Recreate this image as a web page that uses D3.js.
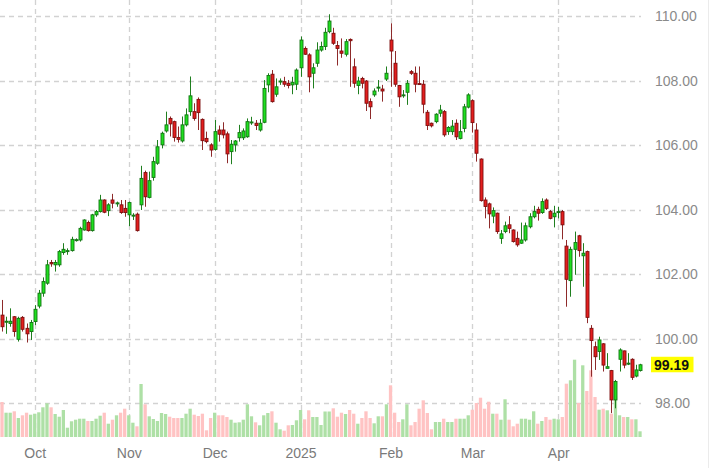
<!DOCTYPE html>
<html>
<head>
<meta charset="utf-8">
<script src="https://cdn.jsdelivr.net/npm/d3@7"></script>
<style>
  html, body { margin: 0; padding: 0; background: #ffffff; }
  svg { display: block; }
  text { font-family: "Liberation Sans", Arial, sans-serif; }
</style>
</head>
<body>
<svg id="chart" width="723" height="468"></svg>
<script>
// ---------- DATA ----------
const dates = [
  "2024-09-19","2024-09-20","2024-09-23","2024-09-24","2024-09-25","2024-09-26","2024-09-27","2024-09-30",
  "2024-10-01","2024-10-02","2024-10-03","2024-10-04","2024-10-07","2024-10-08","2024-10-09","2024-10-10","2024-10-11",
  "2024-10-14","2024-10-15","2024-10-16","2024-10-17","2024-10-18","2024-10-21","2024-10-22","2024-10-23","2024-10-24",
  "2024-10-25","2024-10-28","2024-10-29","2024-10-30","2024-10-31",
  "2024-11-01","2024-11-04","2024-11-05","2024-11-06","2024-11-07","2024-11-08","2024-11-11","2024-11-12","2024-11-13",
  "2024-11-14","2024-11-15","2024-11-18","2024-11-19","2024-11-20","2024-11-21","2024-11-22","2024-11-25","2024-11-26",
  "2024-11-27","2024-11-28","2024-11-29",
  "2024-12-02","2024-12-03","2024-12-04","2024-12-05","2024-12-06","2024-12-09","2024-12-10","2024-12-11","2024-12-12",
  "2024-12-13","2024-12-16","2024-12-17","2024-12-18","2024-12-19","2024-12-20","2024-12-23","2024-12-24","2024-12-26",
  "2024-12-27","2024-12-30","2024-12-31",
  "2025-01-02","2025-01-03","2025-01-06","2025-01-07","2025-01-08","2025-01-09","2025-01-10","2025-01-13","2025-01-14",
  "2025-01-15","2025-01-16","2025-01-17","2025-01-20","2025-01-21","2025-01-22","2025-01-23","2025-01-24","2025-01-27",
  "2025-01-28","2025-01-29","2025-01-30","2025-01-31",
  "2025-02-03","2025-02-04","2025-02-05","2025-02-06","2025-02-07","2025-02-10","2025-02-11","2025-02-12","2025-02-13",
  "2025-02-14","2025-02-17","2025-02-18","2025-02-19","2025-02-20","2025-02-21","2025-02-24","2025-02-25","2025-02-26",
  "2025-02-27","2025-02-28",
  "2025-03-03","2025-03-04","2025-03-05","2025-03-06","2025-03-07","2025-03-10","2025-03-11","2025-03-12","2025-03-13",
  "2025-03-14","2025-03-17","2025-03-18","2025-03-19","2025-03-20","2025-03-21","2025-03-24","2025-03-25","2025-03-26",
  "2025-03-27","2025-03-28","2025-03-31",
  "2025-04-01","2025-04-02","2025-04-03","2025-04-04","2025-04-07","2025-04-08","2025-04-09","2025-04-10","2025-04-11",
  "2025-04-14","2025-04-15","2025-04-16","2025-04-17","2025-04-18","2025-04-21","2025-04-22","2025-04-23","2025-04-24",
  "2025-04-25","2025-04-28","2025-04-29"
];

const open = [
  100.73,100.52,100.47,100.68,99.98,100.66,100.32,100.22,
  100.53,101.01,101.41,101.72,102.36,102.29,102.29,102.67,102.71,
  102.73,103.05,103.06,103.37,103.60,103.35,103.84,103.94,104.30,
  103.97,104.30,104.19,104.15,104.04,
  103.84,103.82,103.86,104.15,105.15,104.38,105.00,105.44,106.01,
  106.44,106.83,106.73,106.24,106.13,106.63,107.04,107.04,107.42,
  106.80,106.21,106.01,
  105.87,106.47,106.47,106.35,105.80,106.01,106.23,106.23,106.26,
  106.71,106.68,106.47,106.71,107.87,108.20,107.58,107.98,107.97,
  107.92,107.87,107.89,
  108.40,109.00,108.80,108.23,108.54,108.95,109.06,109.52,109.47,
  109.09,108.92,108.82,109.28,108.43,107.85,108.07,107.99,107.35,
  107.56,107.79,107.74,108.05,
  109.26,108.54,107.85,107.55,107.64,108.28,108.23,107.91,107.89,
  107.02,106.68,106.73,106.99,107.04,106.42,106.42,106.68,106.21,
  106.52,107.18,
  107.38,106.47,105.57,104.30,104.18,103.80,103.89,103.11,103.32,
  103.53,103.37,103.11,102.96,103.06,103.47,103.78,104.01,103.91,
  104.30,103.94,103.78,
  103.93,103.94,102.87,101.80,102.77,103.19,102.57,102.70,100.32,
  99.75,99.60,99.84,99.08,99.01,98.10,99.36,99.62,99.23,
  99.36,98.84,99.01
];
const high = [
  101.20,100.68,100.94,100.70,100.68,100.70,100.47,100.58,
  101.04,101.51,101.90,102.44,102.44,102.44,102.75,102.96,102.80,
  103.16,103.11,103.47,103.70,103.66,103.87,103.99,104.46,104.32,
  104.20,104.49,104.25,104.30,104.30,
  104.25,103.89,103.91,105.36,105.21,105.18,105.64,106.16,106.42,
  107.04,106.89,106.76,106.58,106.89,107.14,108.13,107.30,107.48,
  106.83,106.42,106.06,
  106.78,106.61,106.71,106.42,106.16,106.16,106.63,106.52,106.83,
  106.88,106.78,106.81,108.02,108.23,108.33,108.07,108.07,108.12,
  108.02,108.12,108.38,
  109.37,109.06,108.85,108.54,109.19,109.21,109.64,110.06,109.64,
  109.23,109.31,109.29,109.31,108.69,108.12,108.12,108.02,107.45,
  107.76,108.02,107.87,108.44,
  109.78,108.92,107.87,107.71,108.02,108.33,108.44,108.44,108.02,
  107.09,106.70,106.99,107.25,107.09,106.59,106.78,106.80,106.78,
  107.28,107.61,
  107.42,106.68,105.59,104.38,104.22,104.07,103.91,103.37,103.63,
  103.80,103.39,103.32,103.60,103.60,103.89,104.12,104.09,104.35,
  104.35,103.99,104.12,
  104.09,103.99,103.06,102.85,103.32,103.22,102.96,102.73,100.42,
  99.91,100.06,99.86,99.55,99.03,98.72,99.70,99.63,99.55,
  99.39,99.19,99.22
];
const low = [
  100.22,100.15,100.37,100.06,99.91,100.22,99.88,99.96,
  100.42,100.94,101.30,101.67,102.23,102.08,102.23,102.60,102.60,
  102.70,103.01,103.01,103.35,103.32,103.32,103.78,103.91,103.89,
  103.80,104.04,104.09,103.87,103.78,
  103.49,103.68,103.32,103.99,104.09,104.35,104.90,105.39,105.90,
  106.39,106.27,106.11,106.08,106.08,106.58,106.91,106.76,106.47,
  105.85,106.06,105.64,
  105.83,106.11,106.21,105.44,105.41,105.80,106.11,106.16,106.23,
  106.63,106.47,106.42,106.68,107.64,107.32,107.50,107.87,107.81,
  107.76,107.58,107.71,
  108.12,108.80,107.64,107.76,108.43,108.90,108.95,109.47,109.11,
  108.47,108.71,108.75,107.81,107.78,107.58,107.76,107.06,106.81,
  107.50,107.66,107.35,107.99,
  107.81,107.81,107.19,107.47,107.25,108.18,107.64,107.87,106.99,
  106.47,106.55,106.68,106.88,106.26,106.32,106.32,106.16,106.18,
  106.40,107.14,
  106.39,105.49,104.25,103.73,103.42,103.58,103.25,102.94,103.27,
  103.27,102.98,102.85,102.94,103.01,103.42,103.73,103.66,103.87,
  103.99,103.70,103.45,
  103.73,103.08,100.99,101.30,101.98,102.54,101.61,100.48,98.82,
  99.03,99.34,98.98,99.08,97.69,97.84,98.98,99.08,99.18,
  98.72,98.80,98.98
];
const close = [
  100.37,100.54,100.54,100.22,100.63,100.29,100.15,100.50,
  100.91,101.41,101.77,102.29,102.32,102.36,102.70,102.77,102.73,
  103.08,103.07,103.42,103.68,103.35,103.84,103.94,104.30,103.92,
  104.15,104.20,104.21,103.91,103.91,
  104.22,103.83,103.35,104.97,104.40,104.90,105.49,105.95,106.37,
  106.63,106.66,106.24,106.18,106.63,106.94,107.53,106.83,107.01,
  106.14,106.11,105.85,
  106.42,106.34,106.32,105.73,106.03,106.13,106.39,106.44,106.73,
  106.72,106.61,106.68,107.76,108.16,107.35,107.81,107.99,107.89,
  107.85,107.95,108.33,
  109.26,108.82,108.12,108.40,108.95,109.06,109.50,109.85,109.16,
  109.00,108.85,109.21,109.24,107.92,107.99,107.92,107.30,107.19,
  107.68,107.80,107.68,108.23,
  108.92,107.89,107.50,107.56,107.92,108.23,107.89,107.89,107.27,
  106.61,106.60,106.96,107.09,106.32,106.55,106.59,106.26,106.42,
  107.19,107.56,
  106.70,105.75,104.28,104.10,103.87,103.97,103.32,103.25,103.50,
  103.42,103.01,102.91,103.06,103.50,103.78,103.94,103.89,104.25,
  104.04,103.73,103.89,
  103.94,103.53,101.84,102.77,102.98,102.73,102.65,100.66,99.94,
  99.44,99.96,99.18,99.13,98.10,98.67,99.65,99.18,99.24,
  98.80,99.03,99.19
];
// volume (thousand contracts, estimated)
const volume = [
  35.0,24.3,24.3,25.7,19.0,21.7,24.3,22.3,
  23.3,24.7,29.7,33.7,29.7,23.0,20.3,27.0,9.3,
  15.7,17.3,18.3,18.3,16.0,16.0,18.3,21.3,24.3,
  13.3,17.3,21.7,24.3,28.3,
  21.7,14.3,10.7,53.0,32.7,20.7,18.0,16.0,24.0,
  23.0,20.3,19.0,19.0,19.0,23.3,28.3,22.3,21.0,
  23.3,6.7,19.0,
  24.3,21.7,21.7,20.0,17.3,14.3,14.7,17.3,32.7,
  20.7,14.7,11.7,21.7,24.0,25.7,14.3,7.7,6.3,
  11.7,12.0,16.7,
  27.0,17.7,26.7,20.0,20.0,12.0,25.5,25.5,28.7,
  20.3,24.3,23.0,27.0,23.3,13.3,19.0,25.7,19.0,
  13.7,20.7,20.7,32.7,
  51.7,24.3,15.0,17.7,32.7,11.7,15.0,28.3,36.7,
  24.0,7.7,15.0,15.0,18.3,15.0,15.0,18.3,18.3,
  18.3,21.7,
  27.3,34.0,39.3,28.3,35.3,23.3,23.3,17.3,37.7,
  17.3,10.7,13.3,18.3,18.3,17.3,25.7,13.3,16.0,
  20.0,17.3,18.3,
  17.7,20.0,53.3,56.7,77.3,34.0,71.7,46.0,66.7,
  40.0,27.3,28.3,26.7,23.3,40.7,21.7,20.0,20.0,
  17.7,17.7,5.7
];

const priceTicks = [98, 100, 102, 104, 106, 108, 110];
const tickLabels = ["Oct", "Nov", "Dec", "2025", "Feb", "Mar", "Apr"];
const tickDates = ["2024-10-01","2024-11-01","2024-12-02","2025-01-02","2025-02-03","2025-03-03","2025-04-01"];

// ---------- CHART ----------
const svg = d3.select("#chart");
const W = 723, H = 468;
const plotRight = 645, plotBottom = 437;

const x = d3.scaleLinear().domain([0, dates.length - 1]).range([2, 640]);
const step = x(1) - x(0);
const y = d3.scaleLinear().domain([96.95, 110.502]).range([plotBottom, 0]);
const yVol = d3.scaleLinear().domain([0, 80]).range([plotBottom, plotBottom - 80]);

const data = dates.map((d, i) => ({
  i, date: d, o: open[i], h: high[i], l: low[i], c: close[i], v: volume[i],
  up: close[i] >= open[i]
}));

const gridColor = "#d2d2d2";

// clip
svg.append("defs").append("clipPath").attr("id", "plotclip")
  .append("rect").attr("x", 0).attr("y", 0).attr("width", plotRight).attr("height", plotBottom);

// horizontal grid
svg.append("g").selectAll("line").data(priceTicks).join("line")
  .attr("x1", 0).attr("x2", 641)
  .attr("y1", d => Math.round(y(d)) + 0.5).attr("y2", d => Math.round(y(d)) + 0.5)
  .attr("stroke", gridColor).attr("stroke-width", 1.3).attr("stroke-dasharray", "5,4");

// vertical grid
const tickIdx = tickDates.map(d => dates.indexOf(d));
svg.append("g").selectAll("line").data(tickIdx).join("line")
  .attr("x1", d => Math.round(x(d)) + 0.5).attr("x2", d => Math.round(x(d)) + 0.5)
  .attr("y1", 0).attr("y2", 441)
  .attr("stroke", gridColor).attr("stroke-width", 1.3).attr("stroke-dasharray", "5,4");

// right border line
svg.append("line").attr("x1", 708.5).attr("x2", 708.5).attr("y1", 0).attr("y2", H)
  .attr("stroke", "#ebebeb").attr("stroke-width", 1);

const plot = svg.append("g").attr("clip-path", "url(#plotclip)");

// volume bars
plot.append("g").selectAll("rect").data(data).join("rect")
  .attr("x", d => x(d.i) - step / 2 + 0.4)
  .attr("width", step - 0.8)
  .attr("y", d => yVol(d.v))
  .attr("height", d => plotBottom - yVol(d.v))
  .attr("fill", d => d.up ? "#aee0a6" : "#ffc3c3");

// wicks
plot.append("g").selectAll("line").data(data).join("line")
  .attr("x1", d => Math.round(x(d.i)) + 0.5).attr("x2", d => Math.round(x(d.i)) + 0.5)
  .attr("y1", d => y(d.h)).attr("y2", d => y(d.l))
  .attr("stroke", d => d.up ? "#1f7f1f" : "#8e2a2a").attr("stroke-width", 1);

// bodies
const bw = 3;
plot.append("g").selectAll("rect").data(data).join("rect")
  .attr("x", d => Math.round(x(d.i)) + 0.5 - bw / 2)
  .attr("width", bw)
  .attr("y", d => y(Math.max(d.o, d.c)))
  .attr("height", d => Math.max(1, Math.abs(y(d.o) - y(d.c))))
  .attr("fill", d => d.up ? "#1fe01f" : "#e41e1e")
  .attr("stroke", d => d.up ? "#137313" : "#7c0f0f")
  .attr("stroke-width", 0.9);

// right axis
const yAxis = d3.axisRight(y).tickValues(priceTicks).tickFormat(d3.format(".2f"))
  .tickSize(0).tickPadding(4);
const ya = svg.append("g").attr("transform", "translate(651,0)").call(yAxis);
ya.select(".domain").remove();
ya.selectAll("text").attr("fill", "#8a8a8a").style("font-size", "14px")
  .style("font-family", "'Liberation Sans', Arial, sans-serif");

// bottom axis
const xAxis = d3.axisBottom(x).tickValues(tickIdx).tickFormat((d, i) => tickLabels[i])
  .tickSize(0).tickPadding(11);
const xa = svg.append("g").attr("transform", `translate(0,${plotBottom})`).call(xAxis);
xa.select(".domain").remove();
xa.selectAll("text").attr("fill", "#7a7a7a").style("font-size", "14px")
  .style("font-family", "'Liberation Sans', Arial, sans-serif");

// last price label
const last = close[close.length - 1];
const ly = y(last);
svg.append("rect").attr("x", 651).attr("y", ly - 8).attr("width", 42.5).attr("height", 15.5)
  .attr("fill", "#ffff00");
svg.append("text").attr("x", 654).attr("y", ly).attr("dy", "0.36em")
  .attr("font-size", 14).attr("font-weight", "bold").attr("fill", "#111")
  .text(d3.format(".2f")(last));
</script>
</body>
</html>
